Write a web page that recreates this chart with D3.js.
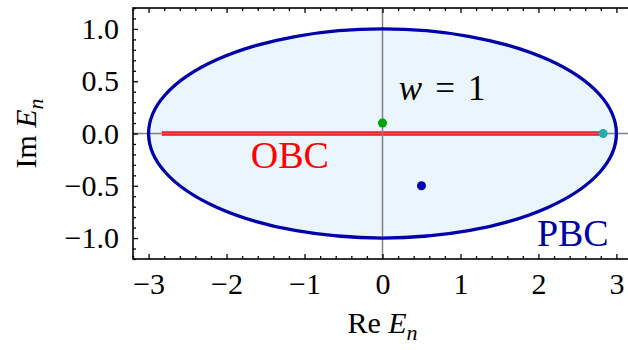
<!DOCTYPE html>
<html>
<head>
<meta charset="utf-8">
<script src="https://cdn.jsdelivr.net/npm/d3@7"></script>
<style>
	body { margin: 0; background: #fff; }
	svg { display: block; }
	text { font-family: 'Liberation Serif', 'Times New Roman', serif; }
</style>
</head>
<body>
<svg id="chart" width="628" height="350"></svg>
<script>
const xTicks = [-3, -2, -1, 0, 1, 2, 3];
const yTicks = [-1.0, -0.5, 0.0, 0.5, 1.0];
const xDomain = [-3.2, 3.2];
const yDomain = [-1.2, 1.2];

// PBC spectrum: ellipse centre and semi-axes (Re, Im)
const pbcCenter = [0, 0];
const pbcRadii = [3, 1];
// OBC spectrum: segment on the real axis
const obcRange = [-2.83, 2.83];

const points = [
	{ re: 0, im: 0.1, color: '#00a400' },
	{ re: 2.83, im: 0, color: '#22adad' },
	{ re: 0.5, im: -0.5, color: '#0000b4' }
];

const svg = d3.select('#chart'),
	margin = { top: 8, left: 133, bottom: 91 },
	height = +svg.attr('height') - margin.top - margin.bottom;

const x = d3.scaleLinear().domain(xDomain).range([margin.left, 632]);
const y = d3.scaleLinear().domain(yDomain).range([margin.top + height, margin.top]);

const g = svg.append('g');

g.append('ellipse')
	.attr('cx', x(pbcCenter[0]))
	.attr('cy', y(pbcCenter[1]))
	.attr('rx', x(pbcRadii[0]) - x(0))
	.attr('ry', y(0) - y(pbcRadii[1]))
	.attr('fill', '#ebf5fe');

g.append('line')
	.attr('x1', x(obcRange[0])).attr('x2', x(obcRange[1]))
	.attr('y1', y(0)).attr('y2', y(0))
	.attr('stroke', '#ff0f0f').attr('stroke-width', 4.5);

// axes through the origin
g.append('line')
	.attr('x1', x(xDomain[0])).attr('x2', x(xDomain[1]))
	.attr('y1', y(0)).attr('y2', y(0))
	.attr('stroke', '#808080').attr('stroke-width', 1.5);
g.append('line')
	.attr('x1', x(0)).attr('x2', x(0))
	.attr('y1', y(yDomain[0])).attr('y2', y(yDomain[1]))
	.attr('stroke', '#808080').attr('stroke-width', 1.5);

g.append('ellipse')
	.attr('cx', x(pbcCenter[0]))
	.attr('cy', y(pbcCenter[1]))
	.attr('rx', x(pbcRadii[0]) - x(0))
	.attr('ry', y(0) - y(pbcRadii[1]))
	.attr('fill', 'none')
	.attr('stroke', '#0000a8')
	.attr('stroke-width', 3.3);

g.selectAll('circle.pt')
	.data(points)
	.join('circle')
	.attr('class', 'pt')
	.attr('cx', d => x(d.re))
	.attr('cy', d => y(d.im))
	.attr('r', 4.5)
	.attr('fill', d => d.color);

// annotations
const w = g.append('text')
	.attr('x', x(0.21)).attr('y', y(0.32))
	.attr('font-size', 35)
	.attr('fill', '#000');
w.append('tspan').attr('font-style', 'italic').text('w');
w.append('tspan').attr('dx', 13).text('=');
w.append('tspan').attr('dx', 13).text('1');

g.append('text')
	.attr('x', x(-1.69)).attr('y', y(-0.33))
	.attr('font-size', 38)
	.attr('fill', '#ff0000')
	.text('OBC');

g.append('text')
	.attr('x', x(1.98)).attr('y', y(-1.08))
	.attr('font-size', 38)
	.attr('fill', '#0000a0')
	.text('PBC');

// frame and inward ticks on all sides
const frame = svg.append('g');
frame.append('rect')
	.attr('x', x(xDomain[0])).attr('y', y(yDomain[1]))
	.attr('width', x(xDomain[1]) - x(xDomain[0]))
	.attr('height', y(yDomain[0]) - y(yDomain[1]))
	.attr('fill', 'none').attr('stroke', '#000').attr('stroke-width', 1.6);

const fmtY = d => d3.format('.1f')(d).replace('-', '\u2212');
const fmtX = d => d3.format('d')(d).replace('-', '\u2212');

const xMinor = d3.range(-32, 33, 2).map(v => v / 10).filter(v => !xTicks.includes(v));
const yMinor = d3.range(-12, 13, 1).map(v => v / 10).filter(v => !yTicks.includes(v));

const axisB = d3.axisBottom(x).tickValues(xTicks).tickFormat(fmtX).tickSize(-5).tickPadding(14);
const axisT = d3.axisTop(x).tickValues(xTicks).tickFormat('').tickSize(-5);
const axisL = d3.axisLeft(y).tickValues(yTicks).tickFormat(fmtY).tickSize(-5).tickPadding(14);

const styleAxis = sel => {
	sel.select('.domain').remove();
	sel.selectAll('line').attr('stroke', '#000').attr('stroke-width', 1.3);
	sel.selectAll('text').attr('font-size', 30).attr('fill', '#000')
		.style('font-family', "'Liberation Serif', 'Times New Roman', serif");
};

frame.append('g').attr('transform', `translate(0,${y(yDomain[0])})`).call(axisB).call(styleAxis);
frame.append('g').attr('transform', `translate(0,${y(yDomain[1])})`).call(axisT).call(styleAxis);
frame.append('g').attr('transform', `translate(${x(xDomain[0])},0)`).call(axisL).call(styleAxis);
frame.append('g').attr('transform', `translate(0,${y(yDomain[0])})`)
	.call(d3.axisBottom(x).tickValues(xMinor).tickFormat('').tickSize(-3)).call(styleAxis);
frame.append('g').attr('transform', `translate(0,${y(yDomain[1])})`)
	.call(d3.axisTop(x).tickValues(xMinor).tickFormat('').tickSize(-3)).call(styleAxis);
frame.append('g').attr('transform', `translate(${x(xDomain[0])},0)`)
	.call(d3.axisLeft(y).tickValues(yMinor).tickFormat('').tickSize(-3)).call(styleAxis);

// axis titles
const xt = svg.append('text')
	.attr('x', x(0)).attr('y', 333)
	.attr('text-anchor', 'middle')
	.attr('font-size', 30);
xt.append('tspan').text('Re ');
xt.append('tspan').attr('font-style', 'italic').text('E');
xt.append('tspan').attr('font-style', 'italic').attr('font-size', 22).attr('dy', 7).text('n');

const yt = svg.append('text')
	.attr('transform', `translate(36,${y(0)}) rotate(-90)`)
	.attr('text-anchor', 'middle')
	.attr('font-size', 30);
yt.append('tspan').text('Im ');
yt.append('tspan').attr('font-style', 'italic').text('E');
yt.append('tspan').attr('font-style', 'italic').attr('font-size', 22).attr('dy', 7).text('n');
</script>
</body>
</html>
